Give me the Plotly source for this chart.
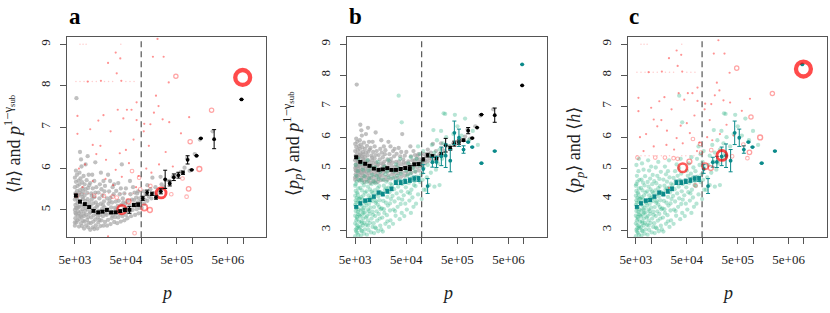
import plotly.graph_objects as go

# ---------------- data (x stored as log10 p) ----------------
GRAY = [
(3.70,4.62),(3.73,4.70),(3.71,4.80),(3.75,4.75),(3.72,4.90),(3.76,4.86),(3.70,5.00),(3.74,5.05),(3.76,4.97),(3.71,5.12),
(3.75,5.16),(3.70,5.25),(3.73,5.31),(3.76,5.22),(3.71,5.40),(3.74,5.46),(3.70,5.55),(3.75,5.58),(3.72,5.68),(3.70,5.78),
(3.74,5.85),(3.72,5.95),(3.73,7.70),(3.70,4.70),(3.76,5.36),(3.72,5.05),
(3.78,4.60),(3.82,4.68),(3.84,4.61),(3.79,4.78),(3.83,4.83),(3.86,4.74),(3.78,4.92),(3.82,4.96),(3.85,5.02),(3.79,5.08),
(3.84,5.12),(3.80,5.22),(3.86,5.26),(3.78,5.35),(3.83,5.38),(3.80,5.48),(3.85,5.52),(3.79,5.62),(3.84,5.67),(3.81,5.76),
(3.79,5.90),(3.83,6.05),(3.80,6.40),(3.82,6.22),(3.86,5.44),(3.81,4.86),
(3.88,4.55),(3.92,4.63),(3.96,4.58),(3.89,4.72),(3.94,4.76),(3.97,4.69),(3.88,4.85),(3.92,4.89),(3.96,4.83),(3.90,4.98),
(3.95,5.01),(3.88,5.10),(3.93,5.13),(3.97,5.08),(3.90,5.22),(3.95,5.26),(3.89,5.35),(3.94,5.41),(3.91,5.50),(3.96,5.53),
(3.89,5.62),(3.93,5.72),(3.97,5.85),(3.91,6.10),(3.95,6.30),(3.98,5.18),
(4.00,4.52),(4.05,4.58),(4.08,4.54),(4.11,4.63),(4.01,4.68),(4.06,4.72),(4.10,4.77),(4.02,4.82),(4.07,4.87),(4.12,4.90),
(4.00,4.95),(4.04,5.01),(4.09,5.04),(4.01,5.10),(4.06,5.16),(4.11,5.18),(4.03,5.25),(4.08,5.31),(4.02,5.40),(4.10,5.42),
(4.05,5.52),(4.00,5.65),(4.08,5.70),(4.04,5.85),(4.10,6.15),
(4.14,4.55),(4.20,4.61),(4.26,4.62),(4.16,4.70),(4.22,4.75),(4.29,4.71),(4.15,4.82),(4.19,4.88),(4.25,4.85),(4.30,4.91),
(4.17,4.98),(4.23,5.02),(4.28,5.06),(4.15,5.12),(4.21,5.15),(4.27,5.21),(4.18,5.28),(4.24,5.35),(4.16,5.42),(4.22,5.50),
(4.28,5.45),(4.19,5.62),(4.26,5.70),(4.21,5.90),
(4.33,4.62),(4.40,4.66),(4.47,4.71),(4.35,4.76),(4.42,4.80),(4.49,4.83),(4.32,4.88),(4.38,4.92),(4.45,4.95),(4.34,5.02),
(4.41,5.06),(4.48,5.05),(4.36,5.15),(4.43,5.18),(4.50,5.20),(4.33,5.28),(4.40,5.30),(4.46,5.38),(4.37,5.45),(4.44,5.55),
(4.39,5.70),(4.47,5.62),(4.35,5.85),
(4.53,4.68),(4.60,4.72),(4.67,4.75),(4.55,4.82),(4.63,4.85),(4.70,4.88),(4.52,4.95),(4.58,4.98),(4.66,5.02),(4.54,5.10),
(4.61,5.12),(4.69,5.15),(4.56,5.22),(4.64,5.28),(4.58,5.38),(4.67,5.40),(4.60,5.52),(4.55,5.65),(4.62,6.10),
(4.73,4.80),(4.80,4.85),(4.88,4.88),(4.95,4.92),(4.75,4.95),(4.83,5.00),(4.91,5.02),(4.97,5.05),(4.77,5.10),(4.85,5.12),
(4.93,5.18),(4.74,5.22),(4.82,5.25),(4.90,5.30),(4.96,5.28),(4.79,5.38),(4.87,5.42),(4.94,5.45),(4.84,5.55),(4.78,5.70),
(5.01,5.05),(5.06,5.15),(5.12,5.22),(5.03,5.30),(5.09,5.38),(5.15,5.32),(5.20,5.28),(5.25,5.40),(5.30,5.35),(5.05,5.45),
(5.18,5.50),(5.28,5.55),(5.35,5.45),(5.40,5.62),(5.45,5.55),(5.12,5.60),(5.48,5.72),(5.38,5.80),(5.22,5.78),
(5.55,5.70),(5.62,5.80),(5.70,5.85),(5.78,5.92),(5.85,6.02),(5.90,6.25),(5.95,5.95),(6.05,6.35),(6.15,6.70),(6.40,6.90),
(3.71,4.93),(3.77,5.07),(3.74,5.28),(3.79,5.42),(3.87,4.91),(3.85,5.31),(3.91,5.06),(3.99,4.92),(4.03,5.34),(4.13,5.08),
(4.18,4.76),(4.25,5.12),(4.31,4.98),(4.38,5.22),(4.44,4.86),(4.51,5.02),(4.57,4.90),(4.65,5.18),(4.72,5.04),(4.86,5.24),
(3.77,5.71),(3.87,5.82),(3.98,5.60),(4.12,5.55),(4.29,5.58),(4.51,5.46),(4.70,5.52),(4.92,5.40),(4.99,5.20),(5.07,5.25),
]

GREEN = [
(3.70,2.80),(3.74,2.91),(3.76,2.84),(3.71,3.01),(3.77,3.06),(3.73,3.16),(3.70,3.21),(3.76,3.12),(3.72,3.31),(3.74,3.36),
(3.70,3.46),(3.76,3.51),(3.73,3.42),(3.71,3.61),(3.77,3.66),(3.74,3.74),(3.70,3.81),(3.72,3.70),(3.76,3.91),(3.71,3.96),
(3.73,4.04),(3.70,4.11),(3.77,4.02),(3.74,4.21),(3.71,4.26),(3.76,4.34),(3.70,4.43),(3.73,4.56),(3.77,4.62),(3.72,4.75),
(3.75,4.90),(3.71,5.10),(3.76,5.30),(3.72,2.95),(3.75,3.58),(3.71,4.48),
(3.81,2.82),(3.87,2.88),(3.83,2.96),(3.89,3.02),(3.80,3.09),(3.85,3.15),(3.88,3.23),(3.82,3.28),(3.86,3.37),(3.80,3.43),
(3.84,3.50),(3.89,3.57),(3.81,3.63),(3.87,3.71),(3.83,3.78),(3.80,3.86),(3.88,3.91),(3.84,3.99),(3.81,4.06),(3.86,4.12),
(3.89,4.21),(3.83,4.28),(3.80,4.36),(3.87,4.44),(3.84,4.53),(3.81,4.63),(3.88,4.74),(3.85,4.95),(3.82,5.15),(3.86,3.55),
(3.93,2.85),(4.01,2.92),(3.96,3.00),(4.04,3.10),(3.92,3.17),(3.99,3.23),(3.95,3.31),(4.02,3.37),(3.93,3.45),(3.98,3.52),
(4.04,3.59),(3.95,3.66),(4.00,3.72),(3.92,3.79),(3.97,3.85),(4.03,3.93),(3.94,3.98),(4.01,4.05),(3.96,4.12),(4.04,4.19),
(3.92,4.25),(3.99,4.31),(3.95,4.40),(4.02,4.48),(3.93,4.55),(3.98,4.66),(4.03,4.78),(3.96,4.92),(4.00,5.05),(3.94,5.25),
(4.07,2.90),(4.15,2.96),(4.11,3.05),(4.19,3.14),(4.06,3.22),(4.13,3.30),(4.18,3.37),(4.09,3.45),(4.16,3.52),(4.12,3.60),
(4.20,3.67),(4.07,3.74),(4.14,3.82),(4.10,3.88),(4.18,3.96),(4.06,4.02),(4.15,4.08),(4.12,4.16),(4.19,4.22),(4.08,4.28),
(4.14,4.35),(4.17,4.42),(4.10,4.51),(4.06,4.58),(4.16,4.65),(4.12,4.75),(4.19,4.88),(4.09,5.02),(4.14,5.20),
(4.24,2.95),(4.36,3.10),(4.29,3.20),(4.39,3.31),(4.23,3.40),(4.32,3.48),(4.27,3.55),(4.38,3.63),(4.22,3.70),(4.34,3.79),
(4.30,3.88),(4.25,3.94),(4.40,4.00),(4.33,4.07),(4.23,4.15),(4.37,4.22),(4.28,4.30),(4.35,4.37),(4.26,4.43),(4.39,4.50),
(4.31,4.56),(4.24,4.63),(4.36,4.70),(4.29,4.80),(4.33,4.90),(4.27,5.05),(4.35,5.25),
(4.44,3.20),(4.57,3.35),(4.49,3.46),(4.61,3.55),(4.45,3.66),(4.53,3.75),(4.59,3.84),(4.47,3.92),(4.55,4.02),(4.43,4.10),
(4.51,4.18),(4.60,4.25),(4.46,4.32),(4.54,4.40),(4.62,4.48),(4.48,4.55),(4.56,4.61),(4.44,4.68),(4.52,4.75),(4.59,4.82),
(4.47,4.90),(4.55,5.00),(4.50,5.12),(4.58,5.30),(4.55,7.34),(4.61,6.48),
(4.66,3.45),(4.79,3.55),(4.71,3.66),(4.84,3.75),(4.68,3.85),(4.76,3.95),(4.82,4.05),(4.65,4.12),(4.73,4.22),(4.80,4.30),
(4.69,4.38),(4.85,4.45),(4.75,4.52),(4.67,4.60),(4.81,4.68),(4.72,4.75),(4.78,4.82),(4.70,4.92),(4.83,5.02),(4.74,5.15),
(4.79,5.35),
(4.89,3.85),(5.00,4.00),(4.93,4.15),(5.04,4.30),(4.88,4.42),(4.97,4.55),(5.02,4.62),(4.91,4.72),(4.99,4.80),(4.87,4.90),
(5.04,5.00),(4.95,5.10),(5.01,5.20),(4.90,5.30),(4.97,5.45),(5.03,5.55),(4.93,5.70),
(5.08,4.30),(5.15,4.45),(5.25,4.40),(5.35,4.45),(5.10,4.70),(5.18,4.85),(5.28,4.95),(5.12,5.10),(5.22,5.20),(5.32,5.15),
(5.40,5.30),(5.15,5.40),(5.25,5.50),(5.35,5.60),(5.45,5.45),(5.20,5.75),(5.30,5.90),(5.42,5.80),(5.48,6.00),(5.38,6.20),
(5.46,6.75),(5.23,6.23),(5.43,6.77),(5.65,6.72),
(5.55,5.70),(5.62,6.10),(5.70,6.35),(5.78,6.05),(5.85,6.60),(5.92,5.90),(6.00,6.20),(6.10,5.75),
(3.72,3.88),(3.75,4.15),(3.78,3.47),(3.79,4.01),(3.83,3.22),(3.85,3.66),(3.78,3.27),(3.91,3.41),(3.90,3.88),(3.97,3.61),
(3.99,4.02),(4.05,3.49),(4.02,4.24),(4.11,3.93),(4.17,3.74),(4.21,4.19),(4.26,3.67),(4.31,4.34),(4.38,3.86),(4.42,4.45),
(3.73,3.05),(3.82,2.98),(3.95,3.14),(4.09,3.08),(4.21,3.02),(4.33,3.28),(4.48,3.61),(4.62,3.98),(4.77,4.18),(4.86,4.58),
]

BIN_LOGP = [3.719,3.80,3.895,3.98,4.065,4.157,4.24,4.327,4.41,4.497,4.59,4.68,4.77,4.856,4.94,
            5.03,5.117,5.21,5.29,5.385,5.47,5.56,5.64,5.73,5.82,5.91,5.99,6.085,6.17,6.43,6.967]
BLACK_MEAN = [5.35,5.20,5.14,5.07,4.98,4.94,4.96,5.00,4.94,4.94,4.97,5.00,5.00,5.12,5.13,
              5.28,5.42,5.39,5.30,5.45,5.74,5.64,5.79,5.84,5.90,6.21,5.97,6.31,6.73,6.71,7.67]
BLACK_ERR = [0.03,0.03,0.03,0.03,0.03,0.03,0.03,0.03,0.03,0.03,0.03,0.04,0.08,0.04,0.04,
             0.05,0.06,0.04,0.04,0.06,0.22,0.06,0.08,0.07,0.04,0.10,0,0,0,0.23,0]

TEAL_LOGP = [3.719,3.80,3.895,3.98,4.065,4.157,4.24,4.327,4.41,4.497,4.59,4.68,4.77,4.856,4.94,
             5.03,5.117,5.21,5.29,5.385,5.47,5.56,5.64,5.73,5.82,5.91,5.99,6.17,6.43,6.967]
TEAL_MEAN = [3.75,3.86,3.95,3.97,4.08,4.21,4.16,4.25,4.33,4.54,4.54,4.57,4.61,4.66,4.65,
             4.97,4.42,5.19,5.20,5.38,5.40,5.24,6.14,5.98,5.60,5.84,5.68,5.16,5.55,8.35]
TEAL_ERR = [0.04,0.05,0.05,0.05,0.05,0.05,0.06,0.06,0.06,0.07,0.07,0.07,0.07,0.08,0.08,
            0.14,0.24,0.16,0.18,0.30,0.38,0.36,0.38,0.28,0.12,0,0,0,0,0]

RED_DOTS = [
(4.50,8.80),(4.59,8.66),(5.23,8.70),(5.44,8.70),(5.32,9.13),(4.52,8.30),(4.21,8.12),(4.61,8.12),(5.54,8.08),(5.29,7.76),
(5.34,7.51),(5.25,7.35),(4.91,7.60),(4.72,7.42),(4.81,7.42),(4.54,7.42),(4.26,7.29),(4.65,7.21),(4.91,7.17),(5.42,7.19),
(5.55,7.12),(5.94,7.24),(5.18,7.07),(3.75,7.27),(4.16,7.16),(3.75,6.84),(4.05,6.57),(4.58,6.37),(5.06,7.08),(4.31,6.21),
(4.50,5.97),(4.76,6.13),(4.95,5.82),(4.40,6.90),(4.85,6.70),(5.15,6.55),(4.20,6.55),(5.62,6.05),(5.78,6.85),(5.48,6.40),
(4.90,5.55),(4.30,5.75),(4.62,5.80),(4.35,4.36),(3.78,6.00),(4.05,5.70),(5.10,6.00),(5.35,6.10),(5.05,6.90),(4.12,6.35),
(3.90,6.10),(4.70,6.45),(5.20,5.90),(3.85,5.55),(4.45,5.60),(3.95,8.10),(4.35,8.55),(4.00,6.95),
]
RED_FAINT = [
(3.72,8.10),(3.80,8.10),(3.88,8.10),(3.96,8.10),(4.04,8.10),(4.12,8.10),(4.28,8.10),(4.36,8.10),(4.44,8.10),(4.70,8.10),(4.78,8.10),(4.86,8.10),
(3.80,9.00),(3.86,9.00),(3.92,9.00),(4.60,9.00),
(3.72,5.40),(3.80,5.40),(3.88,5.40),(3.96,5.40),(4.04,5.40),(4.12,5.40),(4.20,5.40),(4.36,5.40),(4.60,5.40),(4.68,5.40),(4.76,5.40),(4.84,5.40),
]
# open circles: (log10 p, value, relative weight)
RED_CIRCLES = [
(5.06,5.06,3),(5.17,5.00,2),(4.75,5.21,2),(5.68,8.23,1.5),(6.38,7.41,1.5),(5.96,6.65,1.5),(6.14,5.99,2),
(5.93,5.51,1.7),(5.89,5.32,1),(5.81,5.76,1),(5.59,5.38,1),(5.18,5.58,1),(4.82,5.94,1),(3.73,5.34,1),
(4.08,5.34,1),(4.27,5.34,1),(4.44,5.32,1),(4.52,5.30,1),(4.96,5.78,1),(4.87,4.44,1),(4.98,5.50,1),
(4.62,5.01,5),(5.39,5.41,6),(6.99,8.20,10),
]

X_TICKS_MAJOR = [5e3, 5e4, 5e5, 5e6]
X_TICK_TEXT = ["5e+03", "5e+04", "5e+05", "5e+06"]
X_TICKS_MINOR = [1e4, 1e5, 1e6, 1e7]
Y_TICKS_A = [5, 6, 7, 8, 9]
Y_TICKS_BC = [3, 4, 5, 6, 7, 8, 9]
THRESHOLD_P = 1e5

# ---------------- helpers ----------------
SERIF = '"Liberation Serif", "Times New Roman", "DejaVu Serif", serif'
W, H = 830, 313


def xy(pairs):
    return [10 ** a for a, _ in pairs], [b for _, b in pairs]


def cloud(pairs, color, ax, size=4.3):
    x, y = xy(pairs)
    return go.Scatter(x=x, y=y, mode="markers", xaxis=ax[0], yaxis=ax[1], hoverinfo="skip",
                      marker=dict(size=size, color=color, line=dict(width=0)), showlegend=False)


def means(logp, vals, errs, color, ax):
    syms = ["square" if lp < 5.0 else "circle" for lp in logp]
    return go.Scatter(x=[10 ** v for v in logp], y=vals, mode="markers", xaxis=ax[0], yaxis=ax[1],
                      marker=dict(size=3.8, color=color, symbol=syms, line=dict(width=0)),
                      error_y=dict(type="data", array=errs, visible=True, color=color,
                                   thickness=1, width=2),
                      showlegend=False, hoverinfo="skip")


def red_traces(ax):
    out = []
    x, y = xy(RED_FAINT)
    out.append(go.Scatter(x=x, y=y, mode="markers", xaxis=ax[0], yaxis=ax[1], hoverinfo="skip",
                          marker=dict(size=1.5, color="rgba(255,60,60,0.25)"), showlegend=False))
    x, y = xy(RED_DOTS)
    out.append(go.Scatter(x=x, y=y, mode="markers", xaxis=ax[0], yaxis=ax[1], hoverinfo="skip",
                          marker=dict(size=2.2, color="rgba(255,40,40,0.5)"), showlegend=False))
    x = [10 ** a for a, _, _ in RED_CIRCLES]
    y = [b for _, b, _ in RED_CIRCLES]
    w = [c for _, _, c in RED_CIRCLES]
    out.append(go.Scatter(
        x=x, y=y, mode="markers", xaxis=ax[0], yaxis=ax[1], hoverinfo="skip", showlegend=False,
        marker=dict(symbol="circle", size=[2.4 + 1.25 * k for k in w], color="rgba(0,0,0,0)",
                    line=dict(width=[0.7 + 0.36 * k for k in w],
                              color=[f"rgba(255,0,0,{min(1.0, 0.32 + 0.12 * k):.2f})" for k in w]))))
    return out


def thresh(ax, yr):
    return go.Scatter(x=[THRESHOLD_P, THRESHOLD_P], y=yr, mode="lines", xaxis=ax[0], yaxis=ax[1],
                      line=dict(color="#555555", width=1.2, dash="6px,4px"),
                      showlegend=False, hoverinfo="skip")


GRAY_C = "rgba(165,165,165,0.7)"
GREEN_C = "rgba(30,175,125,0.32)"
TEAL_C = "#0b8a8a"

YR_A = [4.34, 9.17]
YR_BC = [2.764, 9.226]

A = ("x", "y")
B = ("x2", "y2")
C = ("x3", "y3")

traces = []
# panel a
traces.append(cloud(GRAY, GRAY_C, A))
traces += red_traces(A)
traces.append(thresh(A, YR_A))
traces.append(means(BIN_LOGP, BLACK_MEAN, BLACK_ERR, "black", A))
# panel b
traces.append(cloud(GRAY, GRAY_C, B))
traces.append(cloud(GREEN, GREEN_C, B))
traces.append(thresh(B, YR_BC))
traces.append(means(BIN_LOGP, BLACK_MEAN, BLACK_ERR, "black", B))
traces.append(means(TEAL_LOGP, TEAL_MEAN, TEAL_ERR, TEAL_C, B))
# panel c
traces.append(cloud(GREEN, GREEN_C, C))
rc = red_traces(C)
traces += rc[:2]
traces.append(thresh(C, YR_BC))
traces.append(means(TEAL_LOGP, TEAL_MEAN, TEAL_ERR, TEAL_C, C))
traces.append(rc[2])

fig = go.Figure(traces)

tickfont = dict(family=SERIF, size=13, color="#222222")
ydom = [(H - 237.3) / H, (H - 37.3) / H]


def xax(l, r, anchor):
    return dict(domain=[l / W, r / W], type="log", range=[3.545, 7.447], tickmode="array",
                tickvals=X_TICKS_MAJOR, ticktext=X_TICK_TEXT, ticks="outside", ticklen=6,
                tickcolor="#555555", minor=dict(tickmode="array", tickvals=X_TICKS_MINOR,
                                                ticks="outside", ticklen=6, tickcolor="#555555"),
                showline=True, mirror=True, linecolor="#555555", linewidth=1, showgrid=False,
                zeroline=False, tickfont=tickfont, ticklabelstandoff=4, automargin=False,
                anchor=anchor)


def yax(rng, tv, anchor):
    return dict(domain=ydom, range=rng, tickmode="array", tickvals=tv, ticks="outside", ticklen=6,
                tickcolor="#555555", showline=True, mirror=True, linecolor="#555555", linewidth=1,
                showgrid=False, zeroline=False, tickfont=tickfont, tickangle=-90, anchor=anchor,
                ticklabelstandoff=5, automargin=False)


ann = []
for xl, letter in [(67, "a"), (347, "b"), (627, "c")]:
    ann.append(dict(x=xl / W, y=(H - 16) / H, xref="paper", yref="paper", text=f"<b>{letter}</b>",
                    showarrow=False, xanchor="left", yanchor="middle",
                    font=dict(family=SERIF, size=23, color="black")))
for xc in [166.5, 447, 727.3]:
    ann.append(dict(x=xc / W, y=(H - 293) / H, xref="paper", yref="paper", text="<i>p</i>",
                    showarrow=False, xanchor="center", yanchor="middle",
                    font=dict(family=SERIF, size=18, color="#222222")))
ytitles = [
    (12, 144, "⟨<i>h</i>⟩ and <i>p</i><sup>1−γ<sub>sub</sub></sup>"),
    (292, 144, "⟨<i>p<sub>p</sub></i>⟩ and <i>p</i><sup>1−γ<sub>sub</sub></sup>"),
    (575, 151, "⟨<i>p<sub>p</sub></i>⟩ and ⟨<i>h</i>⟩"),
]
for xc, yc, t in ytitles:
    ann.append(dict(x=xc / W, y=(H - yc) / H, xref="paper", yref="paper", text=t, textangle=-90,
                    showarrow=False, xanchor="center", yanchor="middle",
                    font=dict(family=SERIF, size=18, color="#222222")))

fig.update_layout(
    width=W, height=H, margin=dict(l=0, r=0, t=0, b=0, autoexpand=False),
    paper_bgcolor="white", plot_bgcolor="white", showlegend=False,
    xaxis=xax(67, 266, "y"), yaxis=yax(YR_A, Y_TICKS_A, "x"),
    xaxis2=xax(347.3, 546.7, "y2"), yaxis2=yax(YR_BC, Y_TICKS_BC, "x2"),
    xaxis3=xax(628, 826.7, "y3"), yaxis3=yax(YR_BC, Y_TICKS_BC, "x3"),
    annotations=ann,
)

fig.write_html("out.html", config={"displayModeBar": False},
               post_script="document.body.style.margin='0px';document.body.style.overflow='hidden';")
